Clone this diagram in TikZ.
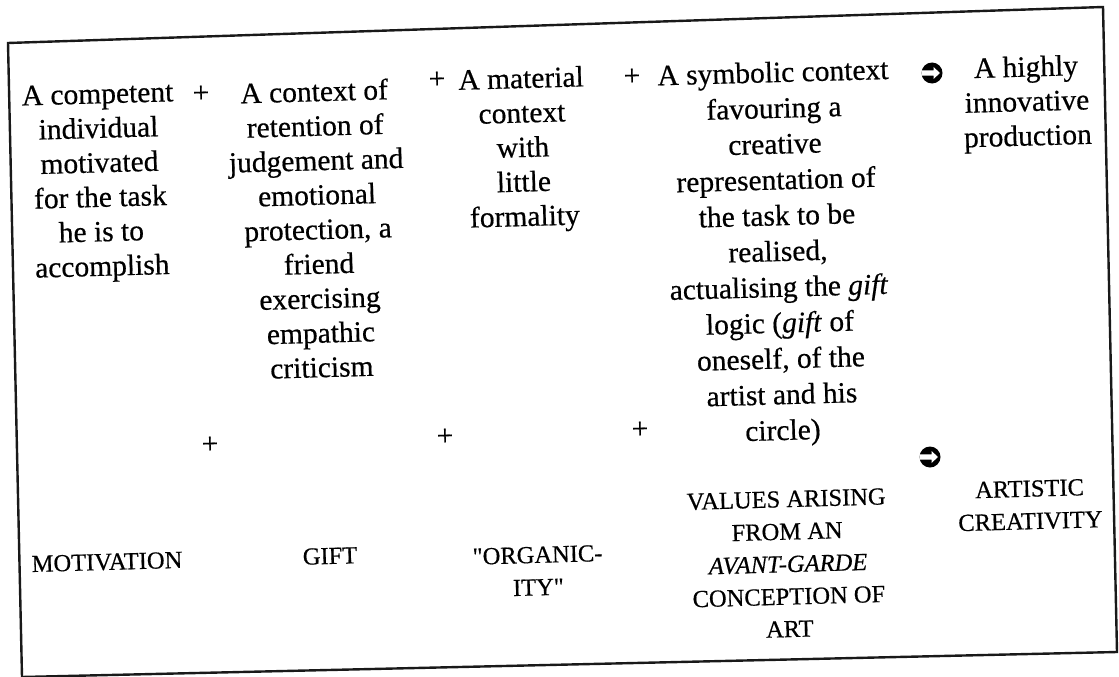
\documentclass[tikz,border=0pt]{standalone}
\usepackage{fontspec}
\setmainfont{Liberation Serif}[FakeBold=0.5]
\newfontfamily\rawserif{Liberation Serif}[FakeBold=0.5,Ligatures=TeXOff]
\begin{document}
\begin{tikzpicture}[x=1pt,y=-1pt,
  top/.style={align=center,inner sep=0pt,rotate=1.6,font=\fontsize{29.5}{34.5}\selectfont},
  caps/.style={align=center,inner sep=0pt,rotate=1.6,font=\fontsize{24.5}{32.5}\selectfont},
  plus/.style={inner sep=0pt,rotate=1.6,font=\fontsize{29.5}{34}\selectfont},
  disc/.style={circle,fill=black,inner sep=0pt,minimum size=21pt}]
\useasboundingbox (0,0) rectangle (1119,677);
\fill[white] (0,0) rectangle (1119,677);
\coordinate (tl) at (8,43);
\coordinate (tr) at (1103,7);
\coordinate (br) at (1117,652);
\coordinate (bl) at (22,677);
\draw[line width=2.4pt,black!90] (tl) -- (tr) -- (br) -- (bl) -- cycle;

\node[top] (c1) at (100,183) {A competent\\individual\\motivated\\for the task\\he is to\\accomplish};
\node[top] (c2) at (318,229) {A context of\\retention of\\judgement and\\emotional\\protection, a\\friend\\exercising\\empathic\\criticism};
\node[top] (c3) at (523,150) {A material\\context\\with\\little\\formality};
\node[top,font=\fontsize{29.5}{35.8}\selectfont] (c4) at (778,254) {A symbolic context\\favouring a\\creative\\representation of\\the task to be\\realised,\\actualising the \textit{gift}\\logic (\textit{gift} of\\oneself, of the\\artist and his\\circle)};
\node[top] (c5) at (1027,104) {A highly\\innovative\\production};

\node[plus] (p1) at (201,94) {+};
\node[plus] (p2) at (437,80) {+};
\node[plus] (p3) at (632,77) {+};
\node[disc] (i1) at (932,73) {};
\fill[white,shift={(i1.center)}] (-10.5,-2.6) -- (1.5,-2.6) -- (1.5,-6) -- (8,0) -- (1.5,6) -- (1.5,2.6) -- (-10.5,2.6) -- cycle;

\node[plus] (q1) at (210,445) {+};
\node[plus] (q2) at (445,437) {+};
\node[plus] (q3) at (640,430) {+};
\node[disc] (i2) at (930,457) {};
\fill[white,shift={(i2.center)}] (-10.5,-2.6) -- (1.5,-2.6) -- (1.5,-6) -- (8,0) -- (1.5,6) -- (1.5,2.6) -- (-10.5,2.6) -- cycle;

\node[caps] (m1) at (107,562) {MOTIVATION};
\node[caps] (m2) at (330,556) {GIFT};
\node[caps] (m3) at (538,571) {{\rawserif"}ORGANIC-\\ITY{\rawserif"}};
\node[caps] (m4) at (788,564) {VALUES ARISING\\FROM AN\\\textit{AVANT-GARDE}\\CONCEPTION OF\\ART};
\node[caps] (m5) at (1030,505) {ARTISTIC\\CREATIVITY};
\end{tikzpicture}
\end{document}
